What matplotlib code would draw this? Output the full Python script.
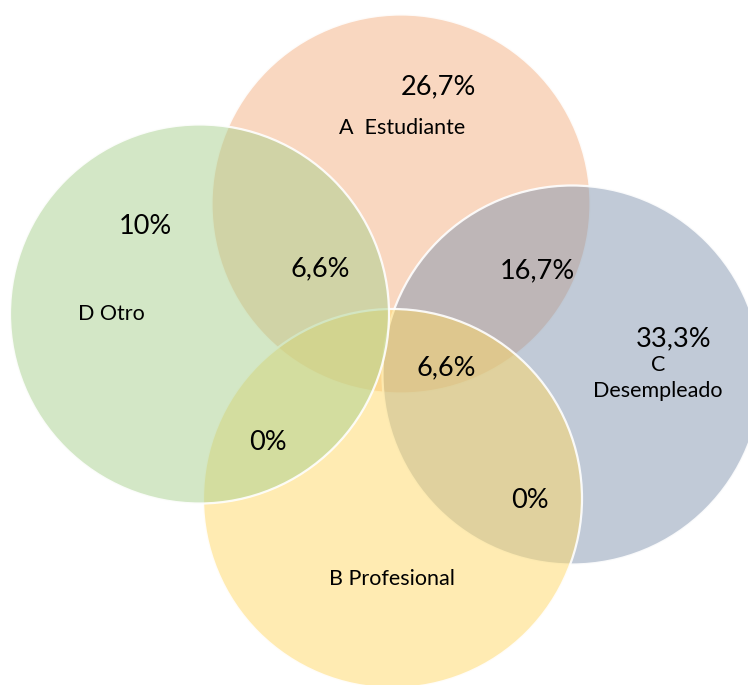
import matplotlib.pyplot as plt
from matplotlib.patches import Circle

# sets and the share that falls in each region
sets = ["A  Estudiante", "B Profesional", "C\nDesempleado", "D Otro"]
only_values = ["26,7%", "", "33,3%", "10%"]
pair_labels = ["A∩D", "A∩C", "A∩B∩C", "B∩D", "B∩C"]
pair_values = ["6,6%", "16,7%", "6,6%", "0%", "0%"]

colors = {"A": "#F4B183", "B": "#FFD966", "C": "#8497B0", "D": "#A9D18E"}

# layout (pixel space of the original picture)
R = 189.5
centers = {"A": (401, 204), "B": (392.5, 498.5), "C": (572, 375), "D": (199.5, 314)}
draw_order = ["A", "C", "B", "D"]

set_pos = {"A": (402, 128), "B": (392, 579), "C": (658, 378), "D": (111, 314)}
only_pos = {"A": (438, 87), "B": None, "C": (674, 339), "D": (145, 226)}
pair_pos = [(320, 269), (537, 271), (446, 368), (268, 442), (530, 500)]

plt.rcParams['font.family'] = ['Lato', 'DejaVu Sans']

fig = plt.figure(figsize=(7.48, 6.85), dpi=100)
ax = fig.add_axes([0, 0, 1, 1])
ax.set_xlim(0, 748)
ax.set_ylim(685, 0)
ax.set_aspect("equal")
ax.axis("off")

for k in draw_order:
    ax.add_patch(Circle(centers[k], R, facecolor=colors[k], alpha=0.5,
                        edgecolor="none"))
    ax.add_patch(Circle(centers[k], R, facecolor="none", edgecolor="white",
                        lw=1.6, alpha=0.9))

for key, name in zip("ABCD", sets):
    x, y = set_pos[key]
    ax.text(x, y, name, ha="center", va="center", fontsize=15.5,
            linespacing=1.35)

for key, val in zip("ABCD", only_values):
    if val and only_pos[key]:
        x, y = only_pos[key]
        ax.text(x, y, val, ha="center", va="center", fontsize=19.5)

for (x, y), val in zip(pair_pos, pair_values):
    ax.text(x, y, val, ha="center", va="center", fontsize=19.5)

fig.savefig("out.png", dpi=100)
